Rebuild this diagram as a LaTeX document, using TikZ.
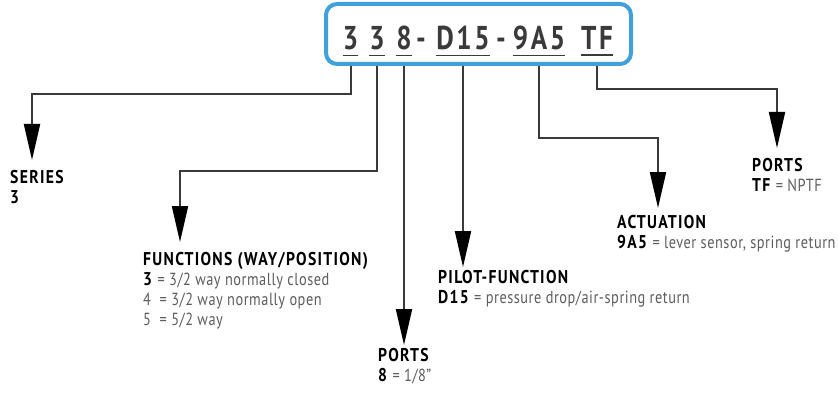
\documentclass[tikz,border=0pt]{standalone}
\usepackage{fontspec}
\usetikzlibrary{arrows.meta}
\newfontfamily\codefont{PT Sans}[FakeStretch=0.82,LetterSpace=8]
\newfontfamily\hdfont{PT Sans}[FakeStretch=0.85,LetterSpace=7]
\newfontfamily\dsfont{PT Sans}[FakeStretch=0.82,LetterSpace=3]
\definecolor{boxblue}{HTML}{3FA0DA}
\definecolor{linegray}{HTML}{3A3A3A}
\definecolor{descgray}{HTML}{5E5E5E}
\tikzset{
  codech/.style={inner sep=0pt, anchor=base, font=\codefont\bfseries\fontsize{33}{33}\selectfont, text=linegray},
  conn/.style={draw=linegray, line width=2pt, -{Triangle[length=36pt,width=16pt,black]}},
  ul/.style={draw=linegray, line width=1.6pt},
  lab/.style={inner sep=0pt, anchor=north west, align=left, font=\fontsize{18}{20}\selectfont},
}
\newcommand{\hd}[1]{{\hdfont\bfseries\fontsize{18.5}{20}\selectfont\color{black}#1}}
\newcommand{\ds}[1]{{\dsfont\fontsize{17.5}{20}\selectfont\color{descgray}#1}}
\begin{document}
\begin{tikzpicture}[x=1pt,y=-1pt]
\useasboundingbox[fill=white] (0,0) rectangle (838,393);
\node[draw=boxblue, line width=4pt, rounded corners=11pt, minimum width=305pt, minimum height=60pt, inner sep=0pt] (box) at (478.5,34) {};
\node[codech] (c1) at (350.5,50) {3};
\node[codech] (c2) at (377,50) {3};
\node[codech] (c3) at (404,50) {8};
\node[codech] (d1) at (421,50) {-};
\node[codech] (c4) at (463,50) {D15};
\node[codech] (d2) at (501,50) {-};
\node[codech] (c5) at (539,50) {9A5};
\node[codech] (c6) at (597,50) {TF};
\foreach \c in {c1,c2,c3,c4,c5,c6}{
  \draw[ul] ([yshift=-5pt]\c.south west) -- ([yshift=-5pt]\c.south east);
}
\coordinate (t1) at (32,160);
\coordinate (t2) at (180,242);
\coordinate (t3) at (404,345);
\coordinate (t4) at (463,267);
\coordinate (t5) at (658,208);
\coordinate (t6) at (777,148);
\draw[conn] (c1 |- box.south) -- ++(0,28) -| (t1);
\draw[conn] (c2 |- box.south) -- ++(0,105) -| (t2);
\draw[conn] (c3 |- box.south) -- (t3);
\draw[conn] (c4 |- box.south) -- (t4);
\draw[conn] (c5 |- box.south) -- ++(0,72) -| (t5);
\draw[conn] (c6 |- box.south) -- ++(0,23) -| (t6);
\node[lab] (series) at (10,170) {\hd{SERIES}\\\hd{3}};
\node[lab] (func) at (143,252) {\hd{FUNCTIONS (WAY/POSITION)}\\\hd{3}\ \ds{= 3/2 way normally closed}\\\ds{4\ \ = 3/2 way normally open}\\\ds{5\ \ = 5/2 way}};
\node[lab] (ports8) at (378,348) {\hd{PORTS}\\\hd{8}\ \ds{= 1/8”}};
\node[lab] (pilot) at (438,270) {\hd{PILOT-FUNCTION}\\\hd{D15}\ \ds{= pressure drop/air-spring return}};
\node[lab] (act) at (617,215) {\hd{ACTUATION}\\\hd{9A5}\ \ds{= lever sensor, spring return}};
\node[lab] (portstf) at (752,158) {\hd{PORTS}\\\hd{TF}\ \ds{= NPTF}};
\end{tikzpicture}
\end{document}
